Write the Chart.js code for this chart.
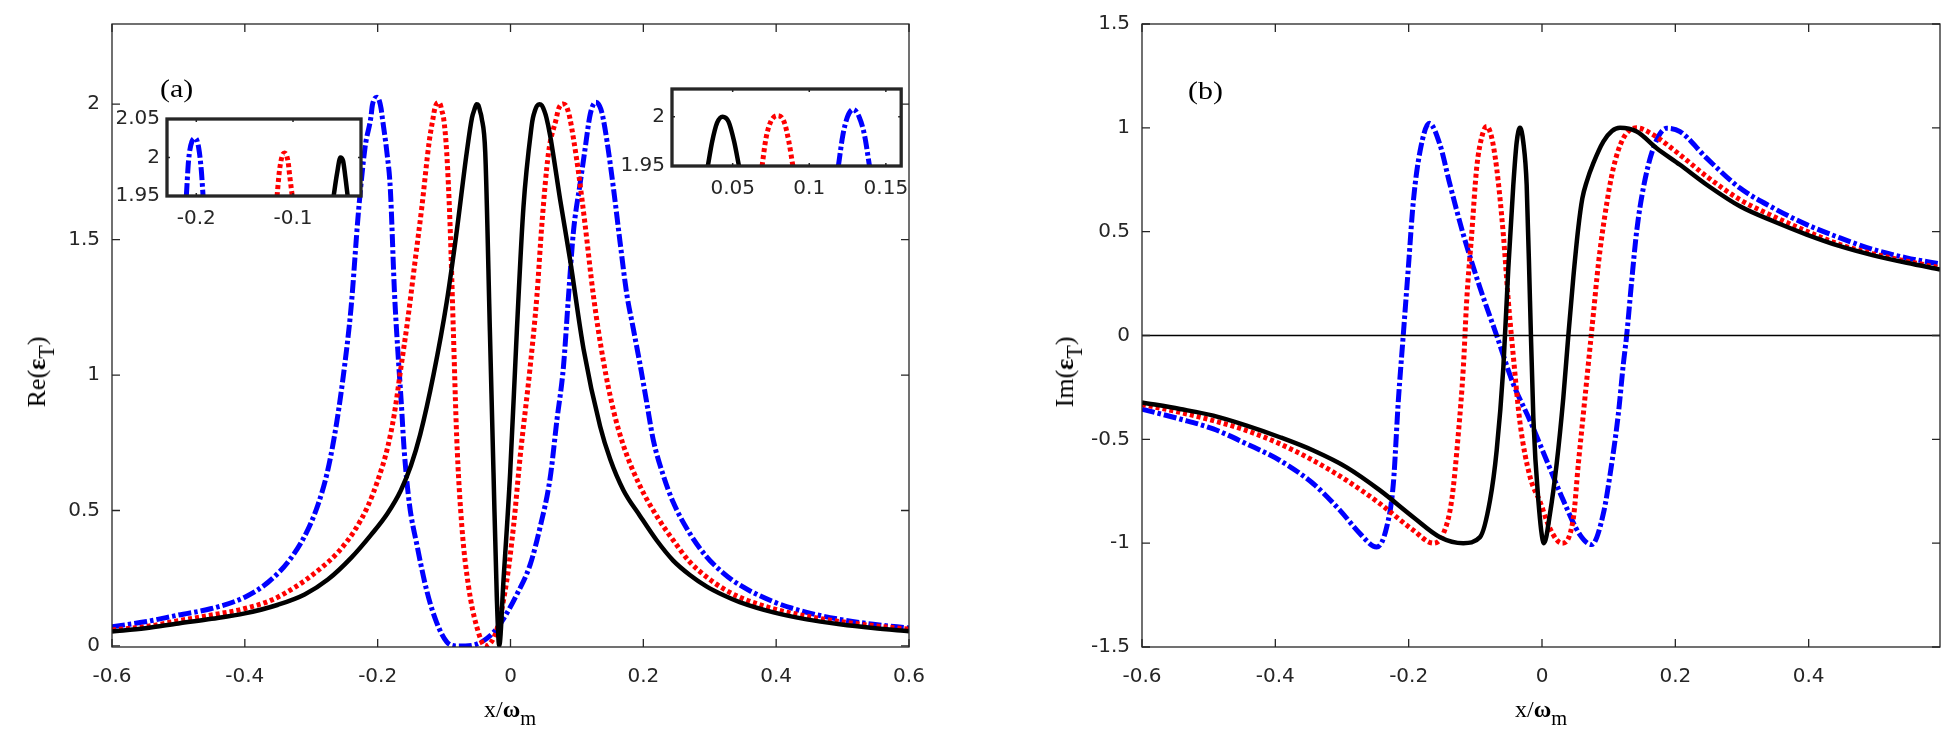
<!DOCTYPE html>
<html>
<head>
<meta charset="utf-8">
<script src="https://cdn.jsdelivr.net/npm/chart.js@4.4.1/dist/chart.umd.min.js"></script>
<style>
html,body{margin:0;padding:0;background:#fff;}
#page{position:relative;width:1956px;height:747px;overflow:hidden;background:#fff;}
canvas{position:absolute;}
.lab{position:absolute;font-family:"Liberation Serif","Times New Roman",serif;color:#000;white-space:nowrap;line-height:1;}
.lab sub{font-size:0.85em;vertical-align:baseline;position:relative;top:0.4em;}
.ylab{transform:translate(-50%,-50%) rotate(-90deg);}
.xlab{transform:translateX(-50%);}
.pan{transform-origin:left top;transform:scaleX(1.15);}
</style>
</head>
<body>
<div id="page">
<canvas id="ca" width="978" height="747" style="left:0;top:0"></canvas>
<canvas id="cb" width="978" height="747" style="left:978px;top:0"></canvas>
<canvas id="ci1" width="290" height="140" style="left:90px;top:100px"></canvas>
<canvas id="ci2" width="300" height="140" style="left:620px;top:70px"></canvas>
<div class="lab pan" style="left:160px;top:76px;font-size:26px;">(a)</div>
<div class="lab pan" style="left:1188px;top:78px;font-size:26px;">(b)</div>
<div class="lab ylab" style="left:37px;top:372px;font-size:26px;">Re(<b>ε</b><sub>T</sub>)</div>
<div class="lab ylab" style="left:1065px;top:372px;font-size:26px;">Im(<b>ε</b><sub>T</sub>)</div>
<div class="lab xlab" style="left:510px;top:697px;font-size:24px;">x/<b>ω</b><sub>m</sub></div>
<div class="lab xlab" style="left:1541px;top:697px;font-size:24px;">x/<b>ω</b><sub>m</sub></div>
</div>
<script>
// ---------- tick values ----------
const xTicksA = [-0.6, -0.4, -0.2, 0, 0.2, 0.4, 0.6];
const yTicksA = [0, 0.5, 1, 1.5, 2];
const xTicksB = [-0.6, -0.4, -0.2, 0, 0.2, 0.4];
const yTicksB = [-1.5, -1, -0.5, 0, 0.5, 1, 1.5];
const xTicksIn1 = [-0.2, -0.1];
const yTicksIn1 = [1.95, 2, 2.05];
const xTicksIn2 = [0.05, 0.1, 0.15];
const yTicksIn2 = [1.95, 2];

// ---------- panel (a): Re(eps_T) ----------
const reBlackX = [-0.6,-0.55,-0.5,-0.45,-0.4,-0.35,-0.31,-0.275,-0.24,-0.21,-0.185,-0.165,-0.15,-0.136,-0.116,-0.096,-0.081,-0.066,-0.058,-0.0545,-0.051,-0.0483,-0.0459,-0.0435,-0.038,-0.031,-0.0256,-0.0206,-0.017,-0.0106,-0.0005,0.0095,0.0195,0.032,0.0338,0.0366,0.0398,0.0434,0.0473,0.051,0.0541,0.0597,0.0748,0.0898,0.11,0.135,0.15,0.17,0.195,0.22,0.245,0.27,0.295,0.32,0.345,0.396,0.446,0.496,0.546,0.6];
const reBlackY = [0.053,0.065,0.083,0.1,0.12,0.152,0.19,0.245,0.325,0.41,0.49,0.575,0.665,0.78,1.0,1.27,1.53,1.82,1.95,1.979,2.0,1.996,1.975,1.95,1.82,1.16,0.64,0.18,0.0,0.24,0.64,1.16,1.62,1.923,1.95,1.9745,1.9936,2.0,1.995,1.9745,1.95,1.884,1.647,1.424,1.096,0.81,0.69,0.575,0.48,0.39,0.315,0.262,0.22,0.188,0.162,0.124,0.098,0.08,0.066,0.054];

const reRedX = [-0.6,-0.55,-0.5,-0.45,-0.4,-0.36,-0.325,-0.29,-0.26,-0.235,-0.215,-0.2,-0.185,-0.175,-0.165,-0.155,-0.1435,-0.1335,-0.1225,-0.1165,-0.114,-0.1112,-0.1088,-0.1053,-0.1033,-0.1008,-0.096,-0.091,-0.086,-0.081,-0.0732,-0.0632,-0.0507,-0.038,-0.0206,-0.0055,0.0045,0.0146,0.0296,0.0397,0.0472,0.0572,0.0692,0.0717,0.0749,0.0792,0.0835,0.0867,0.0893,0.095,0.1023,0.1123,0.125,0.14,0.155,0.17,0.195,0.22,0.245,0.27,0.295,0.32,0.345,0.396,0.446,0.496,0.546,0.6];
const reRedY = [0.059,0.071,0.093,0.114,0.138,0.169,0.216,0.278,0.345,0.425,0.515,0.61,0.733,0.855,1.027,1.199,1.424,1.62,1.86,1.95,1.983,2.002,2.006,1.996,1.975,1.95,1.82,1.555,1.16,0.77,0.44,0.22,0.07,0.0,0.06,0.243,0.44,0.70,1.03,1.29,1.555,1.82,1.95,1.9777,1.995,2.001,1.995,1.9745,1.95,1.87,1.75,1.555,1.29,1.05,0.87,0.74,0.59,0.48,0.39,0.31,0.255,0.212,0.18,0.137,0.11,0.09,0.075,0.062];

const reBlueX = [-0.6,-0.55,-0.5,-0.45,-0.4,-0.365,-0.335,-0.31,-0.29,-0.275,-0.262,-0.25,-0.24,-0.229,-0.219,-0.2103,-0.208,-0.2045,-0.201,-0.1976,-0.1948,-0.193,-0.186,-0.181,-0.1746,-0.1696,-0.1646,-0.16,-0.152,-0.141,-0.126,-0.111,-0.096,-0.082,-0.068,-0.053,-0.04,-0.0256,-0.0106,0.0095,0.0296,0.0447,0.0597,0.0697,0.0797,0.0873,0.0948,0.105,0.112,0.119,0.1219,0.125,0.1286,0.1325,0.1361,0.1393,0.1455,0.155,0.165,0.175,0.185,0.195,0.205,0.215,0.23,0.245,0.27,0.295,0.32,0.345,0.396,0.446,0.496,0.546,0.6];
const reBlueY = [0.071,0.089,0.114,0.138,0.18,0.235,0.31,0.405,0.52,0.65,0.82,1.03,1.25,1.6,1.84,1.95,1.996,2.021,2.026,2.013,1.983,1.95,1.82,1.69,1.30,1.088,0.904,0.72,0.52,0.374,0.203,0.085,0.015,0.0,0.0,0.005,0.02,0.05,0.1,0.19,0.3,0.44,0.62,0.83,1.03,1.29,1.53,1.71,1.83,1.95,1.981,2.0,2.007,2.0,1.981,1.95,1.86,1.69,1.49,1.3,1.17,1.04,0.9,0.76,0.63,0.53,0.415,0.33,0.27,0.225,0.163,0.124,0.098,0.08,0.066];

// ---------- panel (b): Im(eps_T) ----------
const imBlackX = [-0.6,-0.543,-0.493,-0.443,-0.393,-0.343,-0.293,-0.243,-0.193,-0.153,-0.118,-0.093,-0.078,-0.068,-0.058,-0.0505,-0.043,-0.038,-0.033,-0.028,-0.023,-0.018,-0.013,-0.0055,0.003,0.012,0.022,0.032,0.0395,0.047,0.0545,0.0605,0.067,0.077,0.092,0.105,0.117,0.142,0.172,0.207,0.247,0.297,0.347,0.397,0.447,0.497,0.547,0.597];
const imBlackY = [-0.322,-0.354,-0.386,-0.434,-0.49,-0.554,-0.635,-0.746,-0.875,-0.971,-1.0,-0.971,-0.794,-0.554,-0.155,0.326,0.726,0.93,1.0,0.93,0.726,0.166,-0.395,-0.794,-1.0,-0.858,-0.618,-0.299,0.0,0.28,0.52,0.66,0.74,0.83,0.934,0.985,1.0,0.982,0.902,0.822,0.726,0.622,0.55,0.486,0.43,0.386,0.35,0.318];

const imRedX = [-0.6,-0.543,-0.493,-0.443,-0.393,-0.343,-0.293,-0.243,-0.193,-0.163,-0.148,-0.1355,-0.1255,-0.118,-0.113,-0.1055,-0.098,-0.09,-0.083,-0.076,-0.068,-0.058,-0.0505,-0.043,-0.033,-0.018,-0.003,0.012,0.0295,0.047,0.0545,0.062,0.072,0.077,0.0845,0.0945,0.107,0.122,0.142,0.167,0.207,0.247,0.297,0.347,0.397,0.447,0.497,0.547,0.597];
const imRedY = [-0.332,-0.37,-0.41,-0.458,-0.522,-0.602,-0.698,-0.81,-0.938,-1.0,-0.954,-0.794,-0.474,-0.155,0.166,0.486,0.806,0.96,1.006,0.96,0.806,0.486,0.166,-0.1,-0.42,-0.68,-0.8,-0.93,-1.0,-0.88,-0.618,-0.378,-0.058,0.102,0.342,0.582,0.806,0.95,1.0,0.966,0.87,0.766,0.654,0.574,0.502,0.438,0.393,0.358,0.326];

const imBlueX = [-0.6,-0.543,-0.493,-0.443,-0.393,-0.343,-0.303,-0.273,-0.248,-0.233,-0.223,-0.2155,-0.208,-0.2005,-0.193,-0.183,-0.169,-0.153,-0.138,-0.118,-0.093,-0.068,-0.043,-0.018,0.007,0.032,0.057,0.0745,0.092,0.1045,0.1145,0.122,0.127,0.1345,0.142,0.152,0.167,0.187,0.207,0.247,0.297,0.347,0.397,0.447,0.497,0.547,0.597];
const imBlueY = [-0.355,-0.402,-0.45,-0.522,-0.602,-0.714,-0.842,-0.954,-1.019,-0.923,-0.714,-0.314,0.006,0.326,0.646,0.886,1.022,0.918,0.726,0.486,0.23,0.0,-0.234,-0.41,-0.602,-0.794,-0.96,-1.007,-0.858,-0.618,-0.378,-0.138,0.0,0.262,0.502,0.71,0.902,0.998,0.982,0.854,0.71,0.614,0.534,0.47,0.414,0.374,0.345];

const zeroLineX = [-0.6, 0.597];
const zeroLineY = [0, 0];

// ---------- insets (magnified peak tops of panel a) ----------
const in1BlueX = [-0.2103,-0.208,-0.2045,-0.201,-0.1976,-0.1948,-0.193];
const in1BlueY = [1.95,1.996,2.021,2.025,2.013,1.983,1.95];
const in1RedX = [-0.1165,-0.114,-0.1112,-0.1088,-0.1053,-0.1033,-0.1008];
const in1RedY = [1.95,1.983,2.002,2.006,1.996,1.975,1.95];
const in1BlackX = [-0.058,-0.0545,-0.051,-0.0483,-0.0459,-0.0435];
const in1BlackY = [1.95,1.979,2.0,1.996,1.975,1.95];

const in2BlackX = [0.0338,0.0366,0.0398,0.0434,0.0473,0.051,0.0541];
const in2BlackY = [1.95,1.9745,1.9936,2.0,1.995,1.9745,1.95];
const in2RedX = [0.0692,0.0717,0.0749,0.0792,0.0835,0.0867,0.0893];
const in2RedY = [1.95,1.9777,1.995,2.001,1.995,1.9745,1.95];
const in2BlueX = [0.119,0.1219,0.125,0.1286,0.1325,0.1361,0.1393];
const in2BlueY = [1.95,1.981,2.0,2.0073,2.0,1.981,1.95];

// ---------- styling / helpers ----------
const TICK_FONT = {family: '"DejaVu Sans", sans-serif', size: 20};
const AXIS_COLOR = '#262626';
const STY = {
  black: {borderColor: '#000000', borderWidth: 4.5, borderDash: []},
  red:   {borderColor: '#ff0000', borderWidth: 5, borderDash: [4, 3]},
  blue:  {borderColor: '#0000ff', borderWidth: 5, borderDash: [13, 3, 3.5, 3]},
  zero:  {borderColor: '#000000', borderWidth: 1.4, borderDash: []}
};
function fmt(v) { return String(Math.round(v * 1000) / 1000); }
function line(xs, ys, sty) {
  return Object.assign({
    data: xs.map((x, i) => ({x: x, y: ys[i]})),
    pointRadius: 0, pointHoverRadius: 0, fill: false,
    cubicInterpolationMode: 'monotone', borderCapStyle: 'butt', borderJoinStyle: 'round'
  }, sty);
}

const framePlugin = {
  id: 'frame',
  beforeDatasetsDraw(chart, args, o) {
    if (!o.white) return;
    const a = chart.chartArea, ctx = chart.ctx;
    ctx.save(); ctx.fillStyle = '#ffffff';
    ctx.fillRect(a.left, a.top, a.right - a.left, a.bottom - a.top);
    ctx.restore();
  },
  afterDatasetsDraw(chart, args, o) {
    const a = chart.chartArea, ctx = chart.ctx, x = chart.scales.x, y = chart.scales.y;
    ctx.save();
    ctx.strokeStyle = AXIS_COLOR;
    ctx.lineWidth = o.width;
    ctx.strokeRect(a.left, a.top, a.right - a.left, a.bottom - a.top);
    ctx.lineWidth = o.tickWidth;
    ctx.beginPath();
    const L = o.tickLen;
    x.ticks.forEach(t => {
      const p = x.getPixelForValue(t.value);
      ctx.moveTo(p, a.bottom); ctx.lineTo(p, a.bottom - L);
      ctx.moveTo(p, a.top); ctx.lineTo(p, a.top + L);
    });
    y.ticks.forEach(t => {
      const p = y.getPixelForValue(t.value);
      ctx.moveTo(a.left, p); ctx.lineTo(a.left + L, p);
      ctx.moveTo(a.right, p); ctx.lineTo(a.right - L, p);
    });
    ctx.stroke();
    ctx.restore();
  }
};

function makeChart(id, c) {
  return new Chart(document.getElementById(id), {
    type: 'line',
    data: {datasets: c.datasets},
    options: {
      responsive: false, animation: false, devicePixelRatio: 1, events: [],
      layout: {padding: {left: 0, top: c.padTop, right: c.padRight, bottom: 0}},
      plugins: {
        legend: {display: false}, tooltip: {enabled: false},
        frame: {width: c.frameWidth, tickWidth: c.tickWidth, tickLen: c.tickLen, white: c.white}
      },
      scales: {
        x: {
          type: 'linear', min: c.xmin, max: c.xmax,
          afterFit: s => { s.height = c.xH; },
          afterBuildTicks: s => { s.ticks = c.xticks.map(v => ({value: v})); },
          grid: {display: false, drawTicks: false}, border: {display: false},
          ticks: {font: TICK_FONT, color: AXIS_COLOR, padding: c.xPad, maxRotation: 0, autoSkip: false, callback: v => fmt(v)}
        },
        y: {
          type: 'linear', min: c.ymin, max: c.ymax,
          afterFit: s => { s.width = c.yW; },
          afterBuildTicks: s => { s.ticks = c.yticks.map(v => ({value: v})); },
          grid: {display: false, drawTicks: false}, border: {display: false},
          ticks: {font: TICK_FONT, color: AXIS_COLOR, padding: c.yPad, autoSkip: false, callback: v => fmt(v)}
        }
      }
    },
    plugins: [framePlugin]
  });
}

// panel (a)
makeChart('ca', {
  datasets: [line(reBlackX, reBlackY, STY.black), line(reRedX, reRedY, STY.red), line(reBlueX, reBlueY, STY.blue)],
  xmin: -0.6, xmax: 0.6, ymin: -0.004, ymax: 2.296, xticks: xTicksA, yticks: yTicksA,
  padTop: 22, padRight: 69, yW: 112, xH: 100, xPad: 18, yPad: 12,
  frameWidth: 1.3, tickWidth: 1.3, tickLen: 8, white: false
});
// panel (b)
makeChart('cb', {
  datasets: [line(zeroLineX, zeroLineY, STY.zero), line(imBlackX, imBlackY, STY.black), line(imRedX, imRedY, STY.red), line(imBlueX, imBlueY, STY.blue)],
  xmin: -0.6, xmax: 0.597, ymin: -1.5, ymax: 1.5, xticks: xTicksB, yticks: yTicksB,
  padTop: 22, padRight: 16, yW: 164, xH: 100, xPad: 18, yPad: 12,
  frameWidth: 1.3, tickWidth: 1.3, tickLen: 8, white: false
});
// inset 1 (left)
makeChart('ci1', {
  datasets: [line(in1BlackX, in1BlackY, STY.black), line(in1RedX, in1RedY, STY.red), line(in1BlueX, in1BlueY, STY.blue)],
  xmin: -0.2303, xmax: -0.0297, ymin: 1.95, ymax: 2.05, xticks: xTicksIn1, yticks: yTicksIn1,
  padTop: 18, padRight: 19, yW: 77, xH: 44, xPad: 11, yPad: 7,
  frameWidth: 3.3, tickWidth: 1.5, tickLen: 3, white: true
});
// inset 2 (right)
makeChart('ci2', {
  datasets: [line(in2BlackX, in2BlackY, STY.black), line(in2RedX, in2RedY, STY.red), line(in2BlueX, in2BlueY, STY.blue)],
  xmin: 0.0104, xmax: 0.160, ymin: 1.95, ymax: 2.028, xticks: xTicksIn2, yticks: yTicksIn2,
  padTop: 14, padRight: 13, yW: 52, xH: 44, xPad: 11, yPad: 7,
  frameWidth: 3.3, tickWidth: 1.5, tickLen: 3, white: true
});
</script>
</body>
</html>
